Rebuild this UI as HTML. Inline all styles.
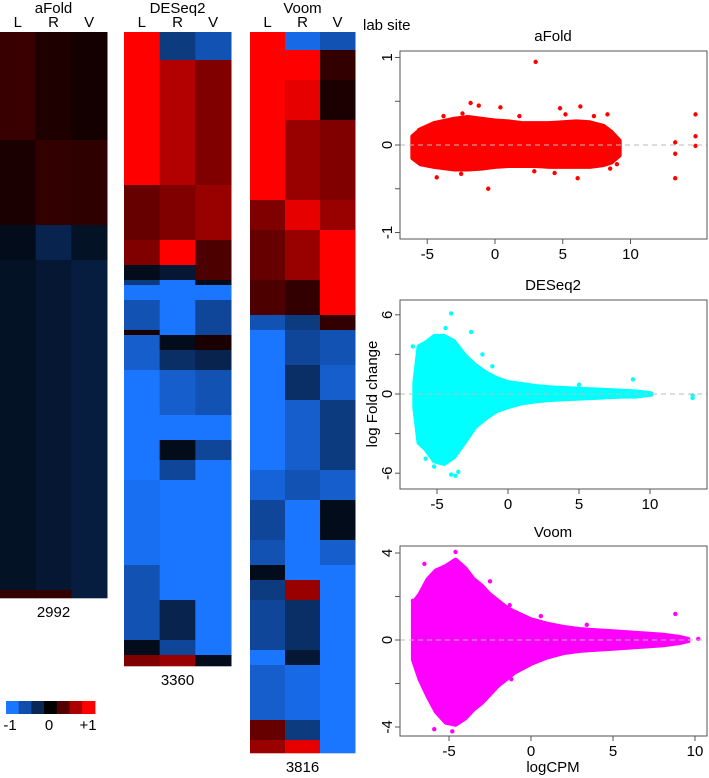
<!DOCTYPE html>
<html><head><meta charset="utf-8"><style>
html,body{margin:0;padding:0;background:#fff;}
svg{display:block;font-family:"Liberation Sans",Arial,sans-serif;}
</style></head><body>
<svg id="fig" width="709" height="778" viewBox="0 0 709 778" xmlns="http://www.w3.org/2000/svg">
<g id="heat"></g>
<g id="cbar"></g>
<g id="plots"></g>
<text x="363" y="30" font-size="15">lab site</text>
</svg>
<script>
// ---- heatmap data: [yStart, yEnd, L, R, V] bands (values -1..1) ----
const aFoldBands = [[32,140,0.22,0.12,0.08],[140,225,0.1,0.2,0.18],[225,260,-0.1,-0.3,-0.15],[260,590,-0.15,-0.2,-0.25],[590,598,0.2,0.2,-0.25]];
const deseqBands = [[32,60,1,-0.5,-0.7],[60,185,1,0.7,0.5],[185,240,0.4,0.5,0.6],[240,265,0.5,1,0.3],[265,280,-0.1,-0.2,0.3],[280,285,-0.5,-1,-0.1],[285,300,-1,-1,-1],[300,330,-0.7,-1,-0.6],[330,335,0.1,-1,-0.6],[335,350,-0.8,-0.1,0.1],[350,370,-0.8,-0.4,-0.3],[370,415,-1,-0.8,-0.7],[415,440,-1,-1,-1],[440,460,-1,-0.1,-0.6],[460,480,-1,-0.6,-1],[480,565,-0.95,-1,-1],[565,600,-0.7,-1,-1],[600,640,-0.7,-0.3,-1],[640,655,-0.1,-0.6,-1],[655,666,0.5,0.6,-0.1]];
const voomBands = [[32,50,1,-0.9,-0.7],[50,80,1,1,0.2],[80,120,1,0.9,0.1],[120,200,1,0.6,0.5],[200,230,0.5,0.9,0.6],[230,280,0.4,0.6,1],[280,315,0.3,0.2,1],[315,330,-0.7,-0.5,0.2],[330,365,-1,-0.6,-0.7],[365,400,-1,-0.4,-0.8],[400,470,-1,-0.8,-0.5],[470,500,-0.85,-0.7,-0.8],[500,540,-0.6,-1,-0.1],[540,565,-0.7,-1,-0.8],[565,580,-0.1,-1,-1],[580,600,-0.5,0.6,-1],[600,650,-0.6,-0.4,-1],[650,665,-1,-0.2,-1],[665,720,-0.8,-0.9,-1],[720,740,0.4,-0.5,-1],[740,753,0.6,0.9,-1]];
const heatCounts = ["2992","3360","3816"];
const keyValues = [-1,-0.67,-0.33,0,0.33,0.67,1];

// ---- MA plot data: envelope x bins, upper and lower limits, outliers ----
const aFoldX = [-6.1,-5.5,-4.5,-3,-2,-1,0,1,2,3,4,5,6,7,8,8.6,9.2];
const aFoldUp = [0.1,0.18,0.25,0.3,0.32,0.3,0.28,0.27,0.25,0.25,0.25,0.26,0.27,0.26,0.22,0.15,0.05];
const aFoldLo = [-0.15,-0.22,-0.25,-0.28,-0.28,-0.27,-0.25,-0.24,-0.24,-0.24,-0.25,-0.25,-0.25,-0.25,-0.23,-0.2,-0.12];
const aFoldOutX = [3,13.3,13.3,13.3,14.8,14.8,14.8,-0.5,-1.8,-1.2,0.4,4.8,6.3,-4.3,6.1,9,8.5,-5.6,-3.8,-2.4,1.8,5.2,7.3,8.3,-2.5,2.9,4.4];
const aFoldOutY = [0.95,0.03,-0.1,-0.38,0.35,0.1,-0.01,-0.5,0.48,0.45,0.43,0.42,0.44,-0.37,-0.38,-0.22,-0.27,0.17,0.33,0.36,0.33,0.35,0.33,0.35,-0.33,-0.3,-0.32];
const deseqX = [-6.6,-6.3,-5.8,-5.2,-4.5,-3.8,-3,-2.3,-1.5,-0.8,0,1,2,3,4,5,6,7,8,9,10.1];
const deseqUp = [0.8,3.6,3.9,4.4,4.4,4,2.9,2.2,1.6,1.2,0.9,0.75,0.6,0.5,0.45,0.4,0.35,0.3,0.25,0.2,0.05];
const deseqLo = [-1,-3.7,-4.2,-5.1,-5.3,-4.8,-3.6,-2.5,-1.8,-1.3,-1,-0.7,-0.55,-0.45,-0.4,-0.35,-0.3,-0.25,-0.2,-0.2,-0.05];
const deseqOutX = [-4,-4.4,-2.6,-4,-3.5,-3.7,8.8,9.7,13,13,-6.7,-1.8,-1.1,-2.2,5,-5.8,-5.2];
const deseqOutY = [6.1,5,4.7,-6.1,-5.9,-6.2,1.1,0.1,-0.1,-0.3,3.6,3,2.1,-2.4,0.7,-4.9,-5.5];
const voomX = [-7.2,-6.8,-6.3,-5.8,-5.2,-4.6,-4,-3.5,-3,-2.5,-2,-1.5,-1,0,1,2,3,4,5,6,7,8,9,9.6];
const voomUp = [1.7,2.1,2.8,3.2,3.4,3.7,3.3,2.8,2.5,2.1,1.8,1.5,1.3,0.95,0.75,0.6,0.5,0.45,0.4,0.35,0.3,0.25,0.15,0.05];
const voomLo = [-0.9,-1.8,-2.6,-3.3,-3.8,-3.9,-3.6,-3.2,-2.9,-2.5,-2.1,-1.8,-1.5,-1.1,-0.8,-0.6,-0.5,-0.45,-0.4,-0.35,-0.3,-0.25,-0.15,-0.05];
const voomOutX = [-6.5,-4.6,-2.5,-1.2,8.8,10.2,-5.9,-4.8,-7.2,-1.3,0.6,3.4];
const voomOutY = [3.5,4.05,2.7,-1.8,1.2,0.05,-4.1,-4.2,1.8,1.6,1.1,0.7];

const NS = "http://www.w3.org/2000/svg";
function mk(tag, attrs, parent){const e=document.createElementNS(NS,tag);for(const k in attrs)e.setAttribute(k,attrs[k]);parent.appendChild(e);return e;}
function col(v){v=Math.max(-1,Math.min(1,v));
  if(v<0){const t=-v;return `rgb(${Math.round(26*t)},${Math.round(117*t)},${Math.round(255*t)})`;}
  return `rgb(${Math.round(255*v)},0,0)`;}

const heat = document.getElementById('heat');
const heatDefs = [
  {name:'afold',title:'aFold',x:0,w:107,bands:aFoldBands,count:heatCounts[0]},
  {name:'deseq2',title:'DESeq2',x:124,w:107,bands:deseqBands,count:heatCounts[1]},
  {name:'voom',title:'Voom',x:250,w:105,bands:voomBands,count:heatCounts[2]}];
heatDefs.forEach(h=>{
  const g = mk('g',{},heat);
  
  
  const cw = h.w/3;
  let yEnd = 0;
  h.bands.forEach(b=>{
    for(let c=0;c<3;c++){
      const r = mk('rect',{x:h.x+c*cw,y:b[0],width:cw+0.5,height:b[1]-b[0]+0.3,fill:col(b[2+c])},g);
      
      
    }
    yEnd = b[1];
  });
  const t = mk('text',{x:h.x+h.w/2,y:13,'font-size':15,'text-anchor':'middle'},g);
  t.textContent = h.title;
  
  
  ['L','R','V'].forEach((s,i)=>{
    const tt = mk('text',{x:h.x+cw*(i+0.5),y:27,'font-size':15,'text-anchor':'middle'},g);
    tt.textContent = s;
    
    
  });
  const ct = mk('text',{x:h.x+h.w/2,y:yEnd+19,'font-size':15,'text-anchor':'middle'},g);
  ct.textContent = h.count;
  
  
});

const cbar = document.getElementById('cbar');
keyValues.forEach((v,i)=>{
  const r = mk('rect',{x:6+i*12.7,y:701,width:13.2,height:13,fill:col(v)},cbar);
  
  
});
[['-1',10],['0',49],['+1',88]].forEach(l=>{
  const t = mk('text',{x:l[1],y:730,'font-size':15,'text-anchor':'middle'},cbar);
  t.textContent = l[0];
  
  
});

const plots = document.getElementById('plots');
const panels = [
  {name:'afold',title:'aFold',color:'#ff0000',top:51,bot:239,x0:495,xs:13.55,y0:145,ys:87.5,
   xt:[-5,0,5,10],yt:[-1,-0.5,0,0.5,1],yl:[-1,0,1],X:aFoldX,U:aFoldUp,L:aFoldLo,OX:aFoldOutX,OY:aFoldOutY,titleY:41},
  {name:'deseq2',title:'DESeq2',color:'#00ffff',top:300,bot:489,x0:508,xs:14.2,y0:394,ys:13.2,
   xt:[-5,0,5,10],yt:[-6,-3,0,3,6],yl:[-6,0,6],X:deseqX,U:deseqUp,L:deseqLo,OX:deseqOutX,OY:deseqOutY,titleY:290},
  {name:'voom',title:'Voom',color:'#ff00ff',top:546,bot:736,x0:531,xs:16.4,y0:640,ys:21.75,
   xt:[-5,0,5,10],yt:[-4,-2,0,2,4],yl:[-4,0,4],X:voomX,U:voomUp,L:voomLo,OX:voomOutX,OY:voomOutY,titleY:537}];
panels.forEach(p=>{
  const g = mk('g',{},plots);
  
  
  const sx = v=>p.x0+p.xs*v, sy = v=>p.y0-p.ys*v;
  let pts = p.X.map((x,i)=>sx(x)+','+sy(p.U[i]));
  for(let i=p.X.length-1;i>=0;i--) pts.push(sx(p.X[i])+','+sy(p.L[i]));
  const poly = mk('polygon',{points:pts.join(' '),fill:p.color,stroke:p.color,'stroke-width':4,'stroke-linejoin':'round'},g);
  
  
  p.OX.forEach((x,i)=>{
    const c = mk('circle',{cx:sx(x),cy:sy(p.OY[i]),r:2.2,fill:p.color},g);
    
    
  });
  const zl = mk('line',{x1:400,x2:707,y1:sy(0),y2:sy(0),stroke:'#bbb','stroke-dasharray':'5,4','stroke-width':1},g);
  
  
  const fr = mk('rect',{x:400,y:p.top,width:307,height:p.bot-p.top,fill:'none',stroke:'#555','stroke-width':1},g);
  
  
  p.xt.forEach(v=>{
    const tk = mk('line',{x1:sx(v),x2:sx(v),y1:p.bot,y2:p.bot+5,stroke:'#555'},g);
    
    
    const t = mk('text',{x:sx(v),y:p.bot+20,'font-size':15,'text-anchor':'middle'},g);
    t.textContent = String(v);
    
    
  });
  p.yt.forEach(v=>{
    const tk = mk('line',{x1:395,x2:400,y1:sy(v),y2:sy(v),stroke:'#555'},g);
    
    
  });
  p.yl.forEach(v=>{
    const t = mk('text',{x:0,y:0,'font-size':15,'text-anchor':'middle',transform:`translate(392,${sy(v)}) rotate(-90)`},g);
    t.textContent = String(v);
    
    
  });
  const tt = mk('text',{x:553,y:p.titleY,'font-size':15,'text-anchor':'middle'},g);
  tt.textContent = p.title;
  
  
});
const yt = mk('text',{x:0,y:0,'font-size':15,'text-anchor':'middle',transform:'translate(377,394) rotate(-90)'},plots);
yt.textContent = 'log Fold change';


const xt = mk('text',{x:553,y:772,'font-size':15,'text-anchor':'middle'},plots);
xt.textContent = 'logCPM';


</script>
</body></html>
